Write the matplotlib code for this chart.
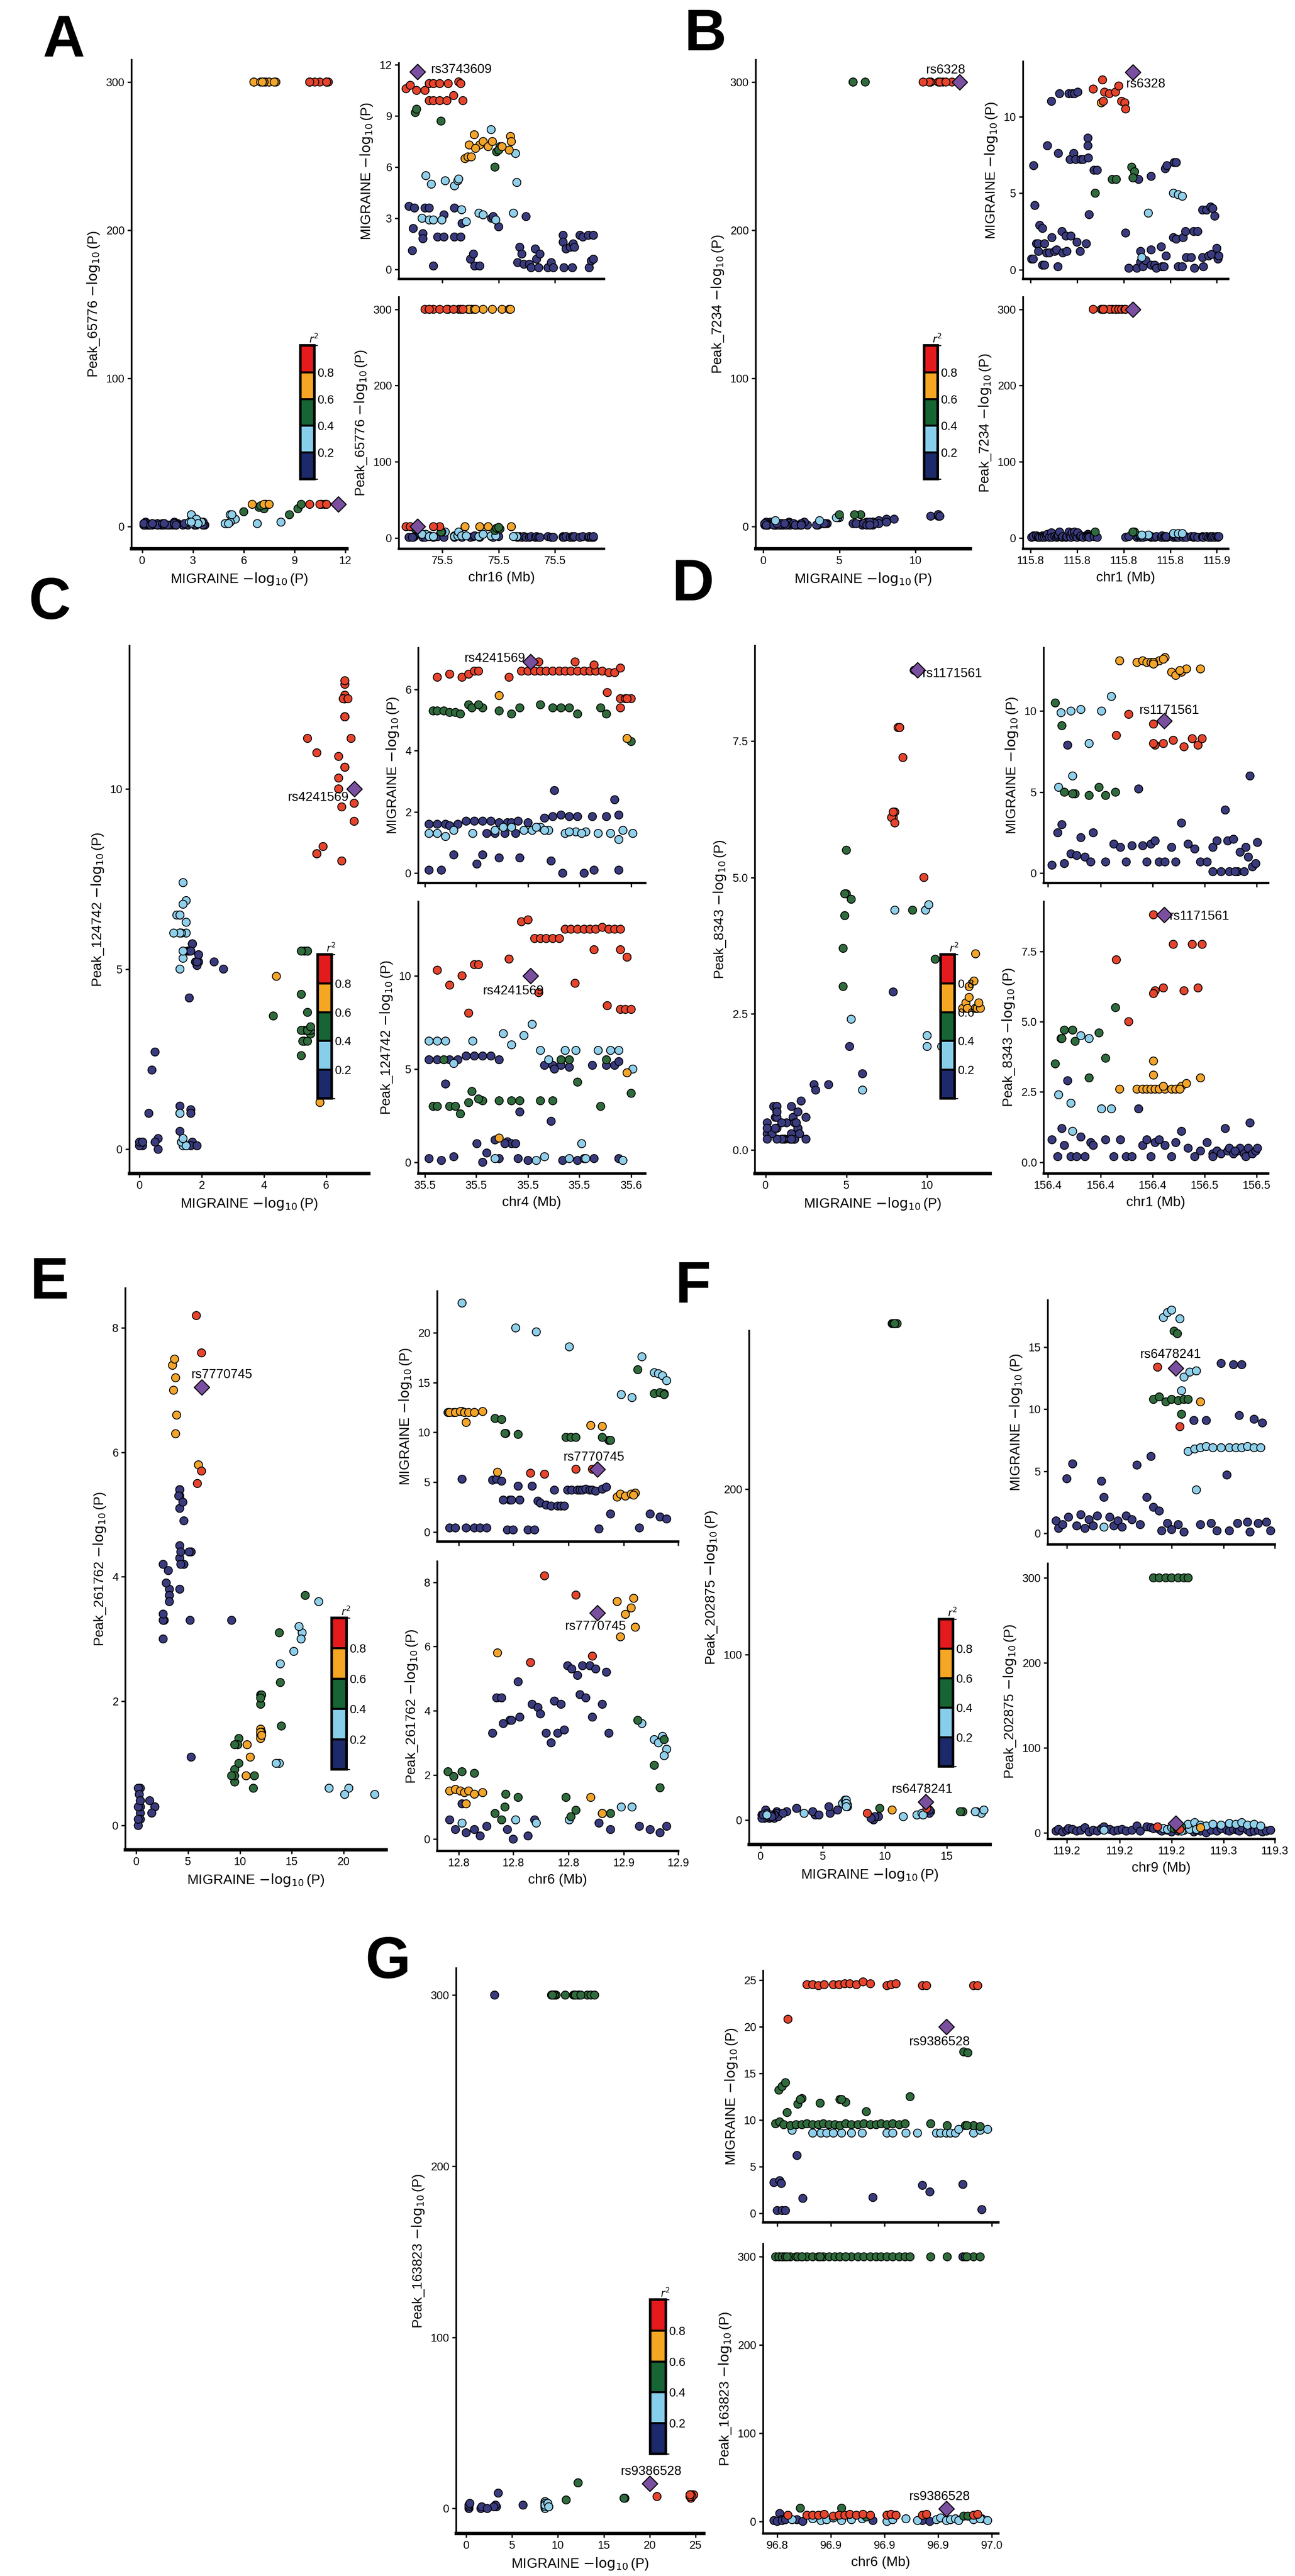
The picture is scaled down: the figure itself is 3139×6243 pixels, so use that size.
import numpy as np
import matplotlib
matplotlib.use("Agg")
import matplotlib.pyplot as plt
from matplotlib.colors import ListedColormap, BoundaryNorm
from matplotlib.cm import ScalarMappable

plt.rcParams["font.family"] = ["Liberation Sans", "DejaVu Sans"]
plt.rcParams["axes.unicode_minus"] = True

W, H, DPI = 3139, 6243, 300
PT_COLORS = ["#3A3B7E", "#8FCFEA", "#2F6B3C", "#F3A52B", "#E6442C"]
BAR_COLORS = ["#1C2A6B", "#87CEEB", "#176534", "#F5A623", "#E41A1C"]
LEAD_COLOR = "#7B4FA0"

# ---------------- data (kb = position along region, arbitrary kb units) ----------------
A_kb = [965, 975, 990, 1010, 1020, 1030, 1045, 1065, 1090, 1095, 1020, 1030, 1045, 1062, 1078, 1100,
        987, 990, 1048, 1176, 1180, 1188, 1185,
        1105, 1112, 1120, 1115, 1127, 1140, 1148, 1160, 1170, 1193, 1210, 1213, 1215, 1130,
        1012, 1025, 1058, 1080, 1088, 1090, 1003, 1020, 1030, 1050, 1097, 1108, 1138, 1148, 1167, 1225, 1228, 1220, 1178,
        972, 985, 982, 980, 1005, 1005, 1010, 1020, 1030, 1040, 1055, 1055, 1080, 1080, 1095, 1098, 1118, 1125, 1128, 1140,
        1168, 1172, 1185, 1230, 1235, 1240, 1245, 1250, 1258, 1262, 1272, 1275, 1280, 1283, 1302, 1310, 1315, 1338, 1338, 1340,
        1345, 1355, 1360, 1362, 1365, 1378, 1385, 1398, 1400, 1405, 1410, 1410]
A_mig = [10.6, 10.8, 10.5, 10.5, 10.9, 10.9, 10.9, 10.9, 11.0, 10.9, 9.9, 9.9, 9.9, 9.9, 10.2, 9.9,
         9.2, 9.4, 8.7, 6.0, 6.9, 7.2, 7.0,
         6.5, 6.6, 6.6, 7.3, 7.9, 7.3, 7.5, 7.2, 7.5, 7.2, 7.0, 7.8, 7.5, 7.1,
         5.5, 5.0, 5.2, 4.9, 5.2, 5.3, 3.0, 2.9, 2.9, 2.9, 3.5, 2.8, 3.3, 3.2, 8.2, 6.8, 5.1, 3.3, 2.9,
         3.7, 3.6, 2.4, 1.1, 2.1, 1.8, 3.6, 3.6, 0.2, 1.9, 1.9, 3.2, 1.9, 3.6, 1.9, 2.7, 0.6, 0.9, 0.2, 0.2,
         3.0, 3.1, 2.5, 0.4, 1.3, 0.9, 0.3, 3.1, 0.3, 0.1, 1.2, 0.6, 0.1, 0.9, 0.1, 0.4, 0.1, 2.0, 1.6, 0.1,
         1.2, 1.3, 0.1, 1.5, 1.3, 2.0, 1.9, 2.0, 0.1, 0.5, 2.0, 0.6]
A_peak = [15, 15, 15, 300, 300, 300, 15, 300, 300, 300, 300, 15, 300, 300, 300, 300,
          12, 15, 8, 10, 13, 12, 14,
          15, 300, 300, 300, 300, 15, 300, 15, 300, 300, 300, 300, 15, 300,
          5, 2, 8, 2, 3, 8, 5, 2, 2, 8, 3, 3, 2, 5, 3, 2, 2, 2, 3,
          1, 2, 1, 1, 2, 1, 1, 3, 1, 2, 2, 1, 3, 1, 2, 1, 1, 2, 3, 1,
          2, 1, 2, 1, 2, 1, 2, 1, 1, 2, 1, 2, 1, 1, 2, 1, 1, 2, 1, 1,
          2, 1, 2, 1, 2, 1, 2, 1, 2, 1, 1, 2]
A_ld = ("4444444444444444" "2222222" "33333333333333" "1111111111111111111"
        "0000000000000000000000000000000000000000000000000000")
A_lead = (992, 11.6, 15)

B_kb = [1070, 1093, 1098, 1110, 1125, 1133, 1095, 1090, 1140, 1148, 1150,
        1117, 1127, 1165, 1172, 1168, 1075,
        1268, 1280, 1290, 1206, 1190,
        923, 926, 918, 922, 930, 934, 935, 938, 945, 945, 950, 950, 955, 957, 962, 967, 968, 975, 980, 983,
        984, 987, 993, 995, 1003, 1005, 1010, 1013, 1015, 1018, 1022, 1024, 1027, 1030, 1032, 1038, 1040, 1045, 1053, 1057,
        1057, 1058, 1060, 1072, 1080, 1150, 1158, 1178, 1182, 1187, 1187, 1193, 1200, 1213, 1213, 1213, 1222, 1226, 1238, 1240,
        1245, 1248, 1252, 1250, 1268, 1270, 1275, 1275, 1280, 1290, 1292, 1298, 1300, 1312, 1318, 1320, 1328, 1340, 1340, 1342,
        1350, 1355, 1360, 1362, 1365, 1370, 1375, 1378, 1380]
B_mig = [11.8, 12.4, 11.6, 11.5, 11.6, 12.0, 11.0, 10.9, 11.0, 10.9, 10.5,
         5.9, 5.9, 6.7, 6.4, 6.0, 5.0,
         5.0, 4.9, 4.8, 3.7, 0.8,
         6.8, 4.2, 0.7, 0.7, 1.7, 1.7, 1.2, 2.9, 2.7, 0.3, 1.7, 0.3, 1.1, 8.1, 1.1, 11.0, 2.1, 1.2, 1.3, 0.2,
         7.6, 11.5, 2.5, 1.1, 2.2, 1.2, 11.5, 7.2, 2.2, 11.5, 7.6, 11.5, 7.2, 1.8, 11.6, 1.2, 7.2, 7.2, 1.7, 8.6,
         8.1, 7.3, 3.6, 6.5, 6.5, 2.4, 0.1, 0.1, 5.9, 1.2, 0.5, 0.2, 0.6, 6.1, 1.3, 0.3, 0.3, 0.1, 1.5, 0.2,
         0.2, 6.6, 6.8, 0.9, 2.1, 7.0, 7.0, 2.0, 0.2, 0.2, 2.1, 2.5, 0.8, 0.8, 2.5, 0.1, 2.5, 3.9, 0.8, 0.2,
         3.9, 0.9, 4.1, 1.0, 4.0, 3.5, 1.4, 0.7, 0.9]
B_peak = [300, 300, 300, 300, 300, 300, 300, 300, 300, 300, 300,
          300, 300, 300, 8, 8, 8,
          6, 6, 6, 4, 4,
          3, 2, 1, 2, 3, 1, 2, 1, 3, 1, 2, 1, 2, 5, 1, 7, 1, 2, 1, 2,
          4, 8, 1, 2, 1, 2, 8, 3, 1, 7, 2, 8, 3, 1, 7, 2, 3, 1, 2, 5,
          3, 2, 1, 2, 1, 1, 2, 1, 2, 1, 3, 1, 2, 2, 1, 2, 1, 2, 1, 3,
          1, 2, 1, 2, 1, 3, 1, 2, 1, 2, 1, 2, 1, 2, 1, 2, 1, 2, 1, 1,
          2, 1, 2, 1, 2, 1, 2, 1, 2]
B_ld = "44444443444" "222222" "11111" + "0" * 89
B_lead = (1168, 12.9, 300)

C_kb = [530, 545, 560, 568, 575, 580, 617, 632, 640, 648, 655, 662, 670, 678, 685, 692, 700, 708, 715, 722, 730, 738,
        745, 752, 697, 720, 653, 736, 752, 758, 765, 752, 760,
        605, 760,
        525, 530, 538, 545, 552, 558, 568, 572, 585, 605, 620, 630, 655, 670, 680, 690, 700, 728, 765, 735, 580,
        520, 530, 540, 550, 573, 600, 610, 620, 635, 645, 655, 665, 685, 698, 710, 725, 740, 750, 755, 767, 705, 690, 650, 660,
        520, 530, 540, 545, 555, 565, 575, 585, 595, 605, 615, 620, 628, 640, 660, 670, 680, 690, 700, 718,
        735, 745, 750, 672, 520, 535, 550, 585, 578, 605, 630, 668, 682, 708, 720, 750, 600, 612, 625, 590]
C_mig = [6.4, 6.5, 6.4, 6.5, 6.6, 6.6, 6.4, 6.6, 6.6, 6.6, 6.6, 6.6, 6.6, 6.6, 6.6, 6.6, 6.6, 6.6, 6.6, 6.6, 6.6, 6.55,
         6.55, 6.7, 6.9, 6.8, 6.9, 5.9, 5.7, 5.7, 5.7, 5.4, 5.7,
         5.8, 4.4,
         5.3, 5.3, 5.3, 5.25, 5.25, 5.2, 5.5, 5.4, 5.4, 5.3, 5.2, 5.4, 5.5, 5.4, 5.4, 5.4, 5.2, 5.4, 4.3, 5.2, 5.5,
         1.3, 1.3, 1.2, 1.4, 1.3, 1.4, 1.5, 1.5, 1.4, 1.4, 1.5, 1.4, 1.3, 1.35, 1.35, 1.3, 1.3, 1.1, 1.4, 1.3, 1.3, 1.35, 1.5, 1.4,
         1.6, 1.6, 1.6, 1.55, 1.6, 1.7, 1.7, 1.7, 1.7, 1.65, 1.65, 1.65, 1.7, 1.65, 1.8, 1.85, 1.9, 1.85, 1.85, 1.85,
         1.85, 2.4, 1.9, 2.7, 0.1, 0.1, 0.6, 0.6, 0.3, 0.5, 0.5, 0.4, 0.0, 0.0, 0.1, 0.1, 1.3, 1.3, 1.3, 1.3]
C_peak = [10.3, 9.5, 10.0, 8.0, 10.6, 10.6, 10.9, 12.9, 13.0, 12.0, 12.0, 12.0, 12.0, 12.0, 12.5, 12.5, 12.5, 12.5, 12.5,
          12.5, 12.6, 12.5, 12.5, 12.5, 9.6, 11.4, 9.1, 8.4, 8.2, 8.2, 8.2, 11.4, 11.0,
          1.3, 4.8,
          3.0, 3.0, 5.5, 3.0, 3.0, 2.6, 3.2, 3.8, 3.3, 3.3, 3.3, 3.3, 3.3, 3.3, 5.5, 5.5, 4.3, 3.0, 3.7, 5.5, 3.4,
          6.5, 6.5, 6.5, 5.3, 6.5, 0.2, 6.9, 6.3, 6.8, 7.4, 6.0, 5.5, 6.0, 6.0, 0.2, 6.0, 6.0, 6.0, 0.1, 5.0, 1.0, 0.2, 0.1, 0.3,
          5.5, 5.5, 4.2, 5.5, 5.5, 5.7, 5.7, 5.7, 5.7, 5.5, 1.1, 1.0, 0.2, 0.1, 5.2, 5.2, 5.2, 5.1, 0.1, 5.2,
          5.2, 5.2, 5.4, 5.0, 0.2, 0.1, 0.3, 0.0, 1.0, 0.2, 2.7, 2.2, 0.1, 0.2, 0.2, 0.2, 1.2, 1.0, 1.0, 0.5]
C_ld = "4" * 33 + "33" + "2" * 21 + "1" * 24 + "0" * 40
C_lead = (643, 6.9, 10.0)

D_kb = [1357, 1378, 1385, 1390, 1395, 1400, 1405, 1412, 1420, 1425, 1432, 1438, 1455, 1398, 1398, 1430, 1410,
        1368, 1398, 1353, 1400, 1410, 1422, 1435, 1445, 1452, 1457, 1398,
        1279, 1287, 1290, 1303, 1320, 1332, 1340, 1352, 1300,
        1286, 1298, 1310, 1335, 1347, 1300, 1320, 1283,
        1275, 1282, 1287, 1290, 1294, 1298, 1305, 1310, 1315, 1322, 1325, 1340, 1350, 1358, 1365, 1372, 1380, 1385,
        1390, 1395, 1400, 1405, 1412, 1420, 1425, 1432, 1440, 1448, 1455, 1463, 1470, 1475, 1480, 1485, 1488, 1490,
        1495, 1500, 1503, 1508, 1510, 1513, 1515, 1518, 1522, 1524, 1470, 1497]
D_mig = [13.1, 13.0, 13.1, 13.0, 13.0, 13.0, 13.1, 13.3, 12.4, 12.2, 12.4, 12.6, 12.6, 13.0, 12.9, 12.5, 13.2,
         9.8, 9.2, 8.5, 7.9, 8.0, 8.2, 7.8, 8.3, 7.9, 8.3, 8.0,
         10.5, 9.1, 5.0, 4.9, 4.8, 5.3, 4.8, 5.0, 4.9,
         9.9, 10.0, 10.1, 10.0, 10.9, 6.0, 8.0, 5.3,
         0.5, 2.5, 3.0, 0.6, 7.9, 1.2, 1.1, 2.2, 1.0, 0.7, 2.5, 0.7, 1.8, 1.6, 0.7, 1.7, 5.2, 1.7,
         0.7, 1.8, 2.0, 0.7, 0.7, 1.6, 0.7, 3.1, 1.8, 1.5, 0.7, 0.7, 1.6, 2.0, 0.1, 3.9, 2.0, 0.1,
         2.1, 0.1, 1.3, 0.1, 1.6, 1.0, 6.0, 0.4, 0.6, 1.9, 0.1, 0.1]
D_peak = [2.6, 2.6, 2.6, 2.6, 2.6, 2.6, 2.6, 2.6, 2.6, 2.6, 2.7, 2.8, 3.0, 3.6, 3.1, 2.6, 2.7,
          5.0, 8.8, 7.2, 6.1, 6.2, 7.75, 6.1, 7.75, 6.2, 7.75, 6.0,
          3.5, 4.4, 4.7, 4.3, 3.0, 4.6, 3.7, 5.5, 4.7,
          4.4, 2.1, 4.5, 1.9, 1.9, 1.1, 4.4, 2.4,
          0.8, 0.2, 1.2, 0.6, 2.9, 0.2, 0.2, 0.9, 0.2, 0.7, 0.6, 0.8, 0.2, 0.8, 0.2, 0.2, 1.9, 0.6,
          0.8, 0.2, 0.7, 0.8, 0.6, 0.2, 0.7, 1.1, 0.5, 0.2, 0.4, 0.7, 0.3, 0.4, 0.3, 1.2, 0.4, 0.5,
          0.3, 0.4, 0.5, 0.3, 0.2, 0.5, 1.4, 0.3, 0.4, 0.5, 0.2, 0.4]
D_ld = "3" * 17 + "4" * 11 + "2" * 9 + "1" * 8 + "0" * 48
D_lead = (1411, 9.4, 8.8)

E_kb = [545, 552, 558, 563, 568, 575, 585, 603, 716, 730, 748, 752, 758, 765, 770, 768, 565,
        543, 550, 560, 575, 600, 608, 613, 628, 686, 692, 698, 730, 740, 773, 793, 800, 805, 612,
        560, 625, 650, 690, 778, 793, 798, 803, 808, 753, 766, 805,
        660, 698, 643, 718,
        545, 552, 560, 565, 575, 582, 590, 597, 602, 608, 615, 618, 622, 628, 630, 640, 645, 648, 652, 655,
        662, 668, 672, 676, 680, 684, 688, 693, 700, 703, 706, 710, 715, 718, 722, 726, 730, 735, 738, 740,
        775, 788, 800, 808, 620, 610]
E_mig = [12.0, 12.0, 12.1, 12.0, 12.0, 12.0, 12.1, 6.0, 10.7, 10.6, 3.5, 3.8, 3.6, 3.8, 3.9, 3.7, 11.0,
         12.0, 12.0, 12.1, 12.0, 11.4, 11.3, 9.9, 9.8, 9.5, 9.5, 9.5, 9.5, 9.2, 16.3, 13.9, 14.0, 13.8, 9.9,
         23.0, 20.5, 20.1, 18.6, 17.6, 16.0, 15.9, 15.7, 15.2, 13.8, 13.5, 13.9,
         5.8, 6.3, 5.9, 6.3,
         0.4, 0.4, 5.3, 0.4, 0.4, 0.4, 0.4, 5.2, 5.3, 5.1, 0.2, 3.2, 0.2, 4.6, 3.2, 0.2, 4.6, 0.2, 3.1, 2.9,
         2.7, 2.6, 4.2, 2.6, 2.6, 2.6, 4.2, 4.2, 4.2, 4.2, 4.2, 4.3, 4.2, 4.2, 4.1, 0.3, 4.3, 4.5, 9.2, 1.8,
         0.4, 1.8, 1.5, 1.3, 3.2, 3.2]
E_peak = [1.5, 1.55, 1.5, 1.45, 1.5, 1.4, 1.45, 5.8, 1.3, 0.8, 7.4, 6.3, 7.0, 7.2, 6.6, 7.5, 1.1,
          2.1, 1.95, 2.1, 2.05, 0.8, 0.6, 1.4, 1.3, 1.3, 0.7, 0.9, 0.8, 0.8, 3.7, 2.3, 1.6, 3.1, 1.0,
          0.5, 0.6, 0.5, 0.6, 3.6, 3.1, 3.0, 3.2, 2.8, 1.0, 1.0, 2.6,
          8.2, 7.6, 5.5, 5.7,
          0.6, 0.3, 1.1, 0.2, 0.3, 0.1, 0.4, 3.3, 4.4, 4.4, 0.3, 3.7, 0.0, 4.9, 3.8, 0.1, 4.2, 0.6, 4.1, 3.9,
          3.3, 3.0, 4.3, 3.3, 4.2, 3.4, 5.4, 5.3, 5.1, 4.5, 5.4, 4.4, 5.4, 3.8, 5.3, 0.5, 4.2, 5.2, 3.3, 0.3,
          0.4, 0.3, 0.2, 0.4, 3.7, 3.6]
E_ld = "3" * 17 + "2" * 18 + "1" * 12 + "4" * 4 + "0" * 46
E_lead = (724, 6.3, 7.05)

F_kb = [1398, 1405, 1413, 1420, 1428, 1435, 1440, 1423, 1427, 1432,
        1410, 1415, 1420, 1430, 1435, 1442, 1450, 1432, 1440, 1448, 1455, 1462, 1470, 1480, 1490, 1498, 1505, 1512,
        1520, 1528, 1450, 1338,
        1403, 1430, 1455,
        1280, 1283, 1288, 1293, 1295, 1300, 1305, 1310, 1315, 1320, 1325, 1330, 1335, 1338, 1345, 1350, 1355, 1360,
        1365, 1372, 1378, 1382, 1390, 1395, 1398, 1405, 1408, 1415, 1420, 1428, 1435, 1447, 1455, 1462, 1468, 1475,
        1480, 1487, 1490, 1495, 1500, 1502, 1505, 1512, 1515, 1520, 1525, 1530, 1535, 1540]
F_mig = [10.8, 11.0, 10.6, 10.8, 10.7, 10.8, 10.8, 16.3, 16.1, 9.6,
         17.4, 17.8, 18.0, 17.3, 12.6, 13.0, 13.1, 11.5, 6.6, 6.8, 6.9, 7.0, 6.9, 6.9, 6.9, 6.9, 6.9, 7.0,
         6.9, 6.9, 3.5, 0.5,
         13.4, 8.6, 10.6,
         1.0, 0.4, 0.7, 4.4, 1.3, 5.6, 0.6, 1.5, 0.4, 1.1, 0.6, 1.4, 4.2, 2.9, 1.3, 0.6, 1.0, 0.5,
         1.4, 1.1, 5.5, 0.7, 2.9, 6.2, 2.1, 1.8, 0.2, 0.8, 0.3, 0.7, 0.1, 9.1, 0.7, 9.1, 0.8, 0.2,
         13.7, 4.7, 0.2, 13.6, 0.8, 9.5, 13.6, 0.9, 0.1, 9.2, 0.8, 8.9, 0.9, 0.2]
F_peak = [300, 300, 300, 300, 300, 300, 300, 5, 5, 7,
          5, 4, 6, 5, 3, 4, 3, 2, 10, 12, 9, 8, 10, 9, 11, 10, 12, 9,
          10, 8, 4, 3,
          7, 4, 6,
          2, 4, 1, 3, 5, 4, 2, 3, 6, 1, 3, 2, 5, 7, 4, 2, 3, 4,
          2, 3, 8, 2, 7, 6, 5, 4, 2, 3, 1, 2, 3, 1, 2, 0, 3, 2,
          5, 3, 2, 4, 3, 2, 6, 3, 1, 2, 3, 1, 2, 3]
F_ld = "2" * 10 + "1" * 22 + "443" + "0" * 50
F_lead = (1425, 13.3, 11)

G_kb = [978, 985, 992, 999, 1010, 1017, 1024, 1030, 1038, 1046, 1055, 1075, 1080, 1086, 1118, 1123, 1180, 1185, 955,
        940, 945, 950, 958, 965, 972, 978, 985, 992, 998, 1005, 1012, 1018, 1025, 1032, 1040, 1047, 1055, 1062, 1068,
        1075, 1082, 1090, 1097, 1128, 1148, 1170, 1180, 1188, 1172,
        944, 948, 952, 967, 972, 994, 1018, 1025, 1103, 954, 1168, 1173, 970, 1020, 1050,
        960, 985, 995, 1002, 1010, 1020, 1032, 1045, 1075, 1082, 1098, 1112, 1135, 1140, 1147, 1152, 1158, 1162, 1180, 1188, 1197,
        938, 945, 947, 942, 948, 952, 966, 973, 1058, 1118, 1127, 1190, 1167]
G_mig = [24.5, 24.5, 24.4, 24.5, 24.5, 24.5, 24.6, 24.6, 24.5, 24.8, 24.6, 24.4, 24.5, 24.6, 24.4, 24.4, 24.4, 24.4, 20.8,
         9.6, 9.8, 9.5, 9.4, 9.5, 9.5, 9.6, 9.5, 9.5, 9.6, 9.5, 9.5, 9.4, 9.6, 9.5, 9.5, 9.6, 9.5, 9.5, 9.6,
         9.5, 9.6, 9.5, 9.6, 9.6, 9.4, 9.4, 9.4, 9.3, 9.4,
         13.2, 13.6, 14.0, 11.7, 12.3, 11.8, 12.2, 11.9, 12.5, 10.8, 17.3, 17.2, 12.2, 12.2, 10.9,
         8.9, 8.6, 8.6, 8.6, 8.6, 8.6, 8.6, 8.6, 8.6, 8.6, 8.6, 8.6, 8.6, 8.6, 8.6, 8.6, 8.6, 9.0, 8.6, 8.9, 9.0,
         3.3, 3.5, 3.2, 0.3, 0.3, 0.3, 6.2, 1.6, 1.7, 3.0, 2.3, 0.4, 3.1]
G_peak = [7, 7, 7, 8, 6, 7, 7, 8, 7, 8, 7, 7, 8, 7, 7, 8, 7, 8, 7,
          300, 300, 300, 300, 300, 300, 300, 300, 300, 300, 300, 300, 300, 300, 300, 300, 300, 300, 300, 300,
          300, 300, 300, 300, 300, 300, 300, 300, 300, 300,
          300, 300, 300, 300, 300, 300, 300, 300, 300, 300, 6, 6, 15, 15, 5,
          2, 3, 1, 2, 4, 1, 2, 3, 0, 2, 3, 1, 2, 4, 1, 2, 3, 1, 2, 3, 1,
          1, 9, 2, 0, 1, 2, 2, 0, 1, 1, 0, 3, 300]
G_ld = "4" * 19 + "2" * 30 + "2" * 15 + "1" * 21 + "0" * 13
G_lead = (1147, 20.0, 14.5)

# ---------------- layout (pixel boxes: x0, x1, ytop, ybottom) ----------------
PANELS = [
    dict(tag="A", tagxy=(155, 100), data=(A_kb, A_mig, A_peak, A_ld, A_lead), peak="Peak_65776", chrom="chr16",
         L=(319, 841, 145, 1330), T=(967, 1464, 153, 676), B=(967, 1464, 720, 1330), cb=(728, 762, 837, 1161),
         Lx=(-0.63, 12.1, [0, 3, 6, 9, 12]), Ly=(-15, 315, [0, 100, 200, 300]),
         kx=(948, 1435, [1051, 1185, 1318], ["75.5", "75.5", "75.5"]),
         Ty=(-0.56, 12.1, [0, 3, 6, 9, 12]), By=(-14, 316, [0, 100, 200, 300]),
         lab={"T": (8, 1, "left")}, snp="rs3743609"),
    dict(tag="B", tagxy=(1710, 85), data=(B_kb, B_mig, B_peak, B_ld, B_lead), peak="Peak_7234", chrom="chr1",
         L=(1832, 2352, 145, 1330), T=(2480, 2977, 149, 676), B=(2480, 2977, 720, 1330), cb=(2240, 2273, 837, 1161),
         Lx=(-0.49, 13.6, [0, 5, 10]), Ly=(-15, 315, [0, 100, 200, 300]),
         kx=(897, 1403, [915, 1030, 1145, 1260, 1375], ["115.8", "115.8", "115.8", "115.8", "115.9"]),
         Ty=(-0.6, 13.6, [0, 5, 10]), By=(-14, 316, [0, 100, 200, 300]),
         lab={"L": (-8, 7, "center"), "T": (-4, -7, "left")}, snp="rs6328"),
    dict(tag="C", tagxy=(120, 1463), data=(C_kb, C_mig, C_peak, C_ld, C_lead), peak="Peak_124742", chrom="chr4",
         L=(314, 894, 1565, 2844), T=(1014, 1564, 1570, 2140), B=(1014, 1564, 2185, 2844), cb=(770, 804, 2313, 2662),
         Lx=(-0.32, 7.37, [0, 2, 4, 6]), Ly=(-0.67, 13.97, [0, 5, 10]),
         kx=(507, 782, [515, 577, 640, 702, 765], ["35.5", "35.5", "35.5", "35.5", "35.6"]),
         Ty=(-0.32, 7.36, [0, 2, 4, 6]), By=(-0.6, 13.98, [0, 5, 10]),
         lab={"L": (-3, -5, "right"), "T": (-3, 2, "right"), "B": (-10, -9, "center")}, snp="rs4241569"),
    dict(tag="D", tagxy=(1680, 1418), data=(D_kb, D_mig, D_peak, D_ld, D_lead), peak="Peak_8343", chrom="chr1",
         L=(1830, 2400, 1565, 2844), T=(2530, 3074, 1570, 2140), B=(2530, 3074, 2185, 2844), cb=(2280, 2314, 2313, 2662),
         Lx=(-0.66, 13.9, [0, 5, 10]), Ly=(-0.43, 9.25, [0, 2.5, 5.0, 7.5]),
         kx=(1265, 1537, [1270, 1334, 1397, 1460, 1523], ["156.4", "156.4", "156.4", "156.5", "156.5"]),
         Ty=(-0.6, 13.9, [0, 5, 10]), By=(-0.4, 9.27, [0, 2.5, 5.0, 7.5]),
         lab={"L": (3, -2, "left"), "T": (3, 6, "center"), "B": (3, -1, "left")}, snp="rs1171561"),
    dict(tag="E", tagxy=(120, 3110), data=(E_kb, E_mig, E_peak, E_ld, E_lead), peak="Peak_261762", chrom="chr6",
         L=(304, 936, 3122, 4483), T=(1060, 1644, 3129, 3736), B=(1060, 1644, 3784, 4486), cb=(804, 840, 3921, 4288),
         Lx=(-1.04, 24.1, [0, 5, 10, 15, 20]), Ly=(-0.39, 8.64, [0, 2, 4, 6, 8]),
         kx=(530, 822, [556, 622, 689, 756, 822], ["12.8", "12.8", "12.8", "12.9", "12.9"]),
         Ty=(-0.97, 24.2, [0, 5, 10, 15, 20]), By=(-0.37, 8.65, [0, 2, 4, 6, 8]),
         lab={"L": (-6, 7, "left"), "T": (-2, 7, "center"), "B": (-1, -8, "center")}, snp="rs7770745"),
    dict(tag="F", tagxy=(1680, 3120), data=(F_kb, F_mig, F_peak, F_ld, F_lead), peak="Peak_202875", chrom="chr9",
         L=(1816, 2400, 3225, 4470), T=(2540, 3090, 3151, 3743), B=(2540, 3090, 3789, 4457), cb=(2276, 2310, 3924, 4281),
         Lx=(-0.93, 18.5, [0, 5, 10, 15]), Ly=(-14.8, 295.7, [0, 100, 200]),
         kx=(1270, 1545, [1293, 1357, 1420, 1483, 1545], ["119.2", "119.2", "119.2", "119.3", "119.3"]),
         Ty=(-0.9, 18.8, [0, 5, 10, 15]), By=(-7.4, 317, [0, 100, 200, 300]),
         lab={"L": (-2, 7, "center"), "T": (-3, 8, "center")}, snp="rs6478241"),
    dict(tag="G", tagxy=(940, 4757), data=(G_kb, G_mig, G_peak, G_ld, G_lead), peak="Peak_163823", chrom="chr6",
         L=(1106, 1706, 4770, 6140), T=(1850, 2420, 4776, 5386), B=(1850, 2420, 5438, 6140), cb=(1576, 1614, 5573, 5947),
         Lx=(-1.08, 25.9, [0, 5, 10, 15, 20, 25]), Ly=(-14.6, 315.7, [0, 100, 200, 300]),
         kx=(925, 1210, [942, 1007, 1072, 1137, 1202], ["96.8", "96.9", "96.9", "96.9", "97.0"]),
         Ty=(-0.97, 26.0, [0, 5, 10, 15, 20, 25]), By=(-13.7, 314.7, [0, 100, 200, 300]),
         lab={"L": (1, 7, "center"), "T": (-4, -9, "center"), "B": (-4, 7, "center")}, snp="rs9386528"),
]

fig = plt.figure(figsize=(W / DPI, H / DPI), dpi=DPI)
fig.patch.set_facecolor("white")


def add_ax(box):
    x0, x1, y0, y1 = box
    return fig.add_axes([x0 / W, 1 - y1 / H, (x1 - x0) / W, (y1 - y0) / H])


def style(ax, thick=1.0):
    for s in ("top", "right"):
        ax.spines[s].set_visible(False)
    ax.spines["left"].set_linewidth(1.0)
    ax.spines["bottom"].set_linewidth(thick)
    ax.tick_params(labelsize=6.5, length=2.5, width=0.8, pad=1.5)


LOG = r"$-\log_{10}$(P)"
for p in PANELS:
    kb, mig, peak, ld, lead = p["data"]
    n = min(len(kb), len(mig), len(peak), len(ld))
    kb, mig, peak = np.array(kb[:n], float), np.array(mig[:n], float), np.array(peak[:n], float)
    ld = np.array([int(c) for c in ld[:n]])
    order = np.argsort(ld, kind="stable")
    cols = np.array(PT_COLORS)[ld]

    axL, axT, axB = add_ax(p["L"]), add_ax(p["T"]), add_ax(p["B"])
    pairs = {"L": (axL, mig, peak, lead[1], lead[2]),
             "T": (axT, kb, mig, lead[0], lead[1]),
             "B": (axB, kb, peak, lead[0], lead[2])}
    for key, (ax, xs, ys, lx, ly) in pairs.items():
        ax.scatter(xs[order], ys[order], c=cols[order], s=22, edgecolors="black", linewidths=0.5,
                   zorder=3, clip_on=False)
        ax.scatter([lx], [ly], marker="D", s=40, c=LEAD_COLOR, edgecolors="black", linewidths=0.6,
                   zorder=4, clip_on=False)
        if key in p["lab"]:
            dx, dy, ha = p["lab"][key]
            ax.annotate(p["snp"], (lx, ly), xytext=(dx, dy), textcoords="offset points",
                        ha=ha, va="center", fontsize=7.5, zorder=5)

    style(axL, 2.0)
    axL.set_xlim(p["Lx"][0], p["Lx"][1]); axL.set_xticks(p["Lx"][2])
    axL.set_ylim(p["Ly"][0], p["Ly"][1]); axL.set_yticks(p["Ly"][2])
    if p["tag"] == "D":
        axL.set_yticklabels(["0.0", "2.5", "5.0", "7.5"])
    axL.set_xlabel("MIGRAINE " + LOG, fontsize=8, labelpad=3)
    axL.set_ylabel(p["peak"] + " " + LOG, fontsize=8, labelpad=3)

    for ax in (axT, axB):
        style(ax, 1.4)
        ax.set_xlim(p["kx"][0], p["kx"][1])
        ax.set_xticks(p["kx"][2])
    axT.set_xticklabels([])
    axB.set_xticklabels(p["kx"][3])
    axT.set_ylim(p["Ty"][0], p["Ty"][1]); axT.set_yticks(p["Ty"][2])
    axB.set_ylim(p["By"][0], p["By"][1]); axB.set_yticks(p["By"][2])
    if p["tag"] == "D":
        axB.set_yticklabels(["0.0", "2.5", "5.0", "7.5"])
    axT.set_ylabel("MIGRAINE " + LOG, fontsize=8, labelpad=3)
    axB.set_ylabel(p["peak"] + " " + LOG, fontsize=8, labelpad=3)
    axB.set_xlabel(p["chrom"] + " (Mb)", fontsize=8, labelpad=3)

    # r2 legend bar
    cax = add_ax(p["cb"])
    sm = ScalarMappable(cmap=ListedColormap(BAR_COLORS), norm=BoundaryNorm([0, .2, .4, .6, .8, 1.0], 5))
    cb = fig.colorbar(sm, cax=cax, ticks=[0.2, 0.4, 0.6, 0.8], drawedges=True)
    cb.outline.set_linewidth(1.5)
    cb.dividers.set_linewidth(1.2)
    cb.ax.tick_params(length=0, labelsize=7, pad=2)
    cax.text(0.95, 1.0, r"$r^2$", transform=cax.transAxes, fontsize=6, ha="center", va="bottom")

    fig.text(p["tagxy"][0] / W, 1 - p["tagxy"][1] / H, p["tag"], fontsize=34, fontweight="bold",
             ha="center", va="center")

fig.savefig("out.png", dpi=DPI, facecolor="white")
